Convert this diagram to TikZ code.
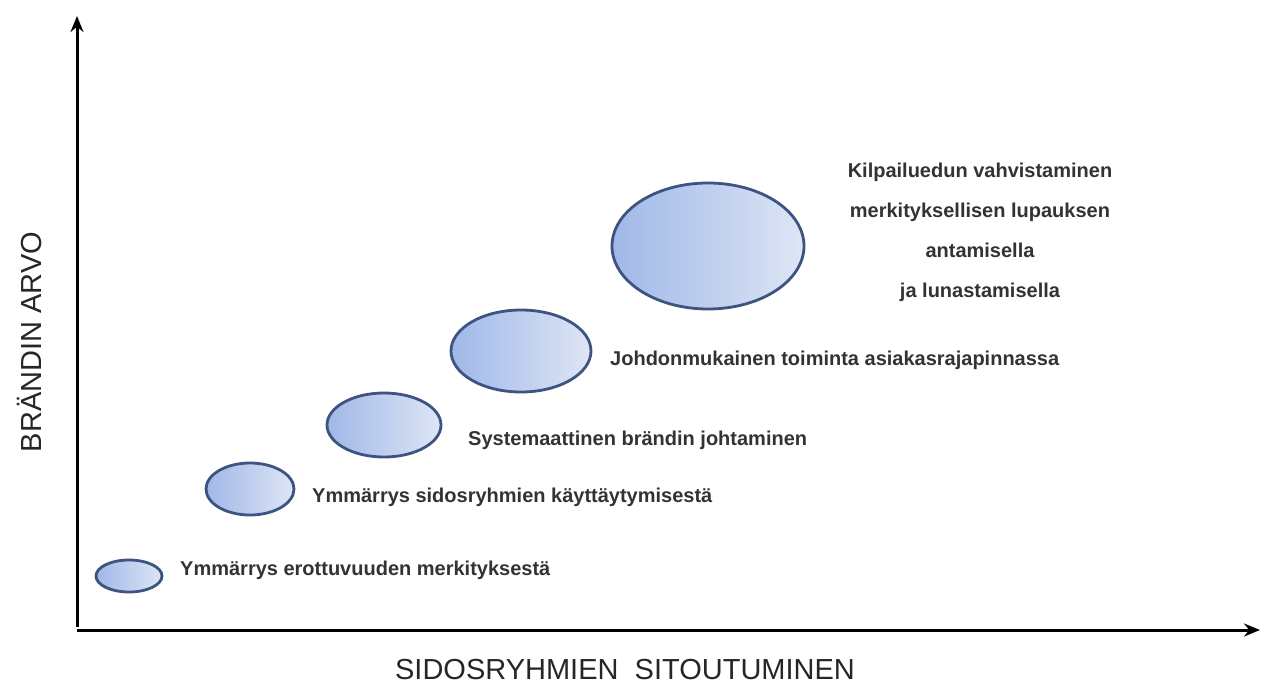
\documentclass[tikz,border=0pt]{standalone}
\usepackage{fontspec}
\setmainfont{Liberation Sans}
\usetikzlibrary{arrows.meta}
\definecolor{bubbleline}{RGB}{62,84,128}
\definecolor{bubbledark}{RGB}{160,184,232}
\definecolor{bubblelight}{RGB}{222,229,245}
\begin{document}
\begin{tikzpicture}[x=1pt,y=-1pt,
  bubble/.style={draw=bubbleline,line width=2.8pt,left color=bubbledark,right color=bubblelight},
  lbl/.style={anchor=west,inner sep=0pt,font=\fontsize{20}{24}\bfseries\selectfont,text=black!80},
  axislbl/.style={inner sep=0pt,font=\fontsize{29}{34}\selectfont,text=black!85}]
\useasboundingbox (0,0) rectangle (1280,686);
\coordinate (O) at (77,630);
\coordinate (Y) at (77,16);
\coordinate (X) at (1260,630);
\draw[line width=3pt,-{Stealth[length=16pt,width=13pt]}] (77,627)--(Y);
\draw[line width=3pt,-{Stealth[length=16pt,width=13pt]}] (O)--(X);
\node[axislbl] (xl) at (625,670) {SIDOSRYHMIEN\ \ SITOUTUMINEN};
\node[axislbl,rotate=90] (yl) at (30,342) {BRÄNDIN ARVO};
\draw[bubble] (129,576) ellipse (33 and 16);
\draw[bubble] (250,489) ellipse (44 and 26);
\draw[bubble] (384,425) ellipse (57 and 32);
\draw[bubble] (521,351) ellipse (70 and 41);
\draw[bubble] (708,246) ellipse (96 and 63);
\node[lbl] (t1) at (180,570) {Ymmärrys erottuvuuden merkityksestä};
\node[lbl] (t2) at (312,497) {Ymmärrys sidosryhmien käyttäytymisestä};
\node[lbl] (t3) at (468,440) {Systemaattinen brändin johtaminen};
\node[lbl] (t4) at (610,360) {Johdonmukainen toiminta asiakasrajapinnassa};
\node[lbl,anchor=north,align=center,font=\fontsize{20}{40}\bfseries\selectfont] (t5) at (980,163)
  {Kilpailuedun vahvistaminen\\merkityksellisen lupauksen\\antamisella\\ja lunastamisella};
\end{tikzpicture}
\end{document}
